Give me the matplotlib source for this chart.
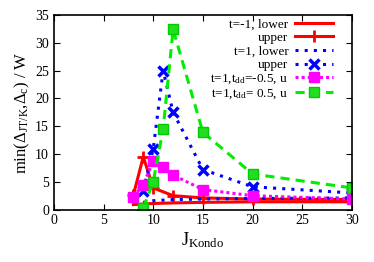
import matplotlib
matplotlib.use("Agg")
import matplotlib.pyplot as plt

plt.rcParams['font.family'] = ['Liberation Serif', 'DejaVu Serif']
plt.rcParams['mathtext.fontset'] = 'custom'
plt.rcParams['mathtext.rm'] = 'Liberation Serif'
plt.rcParams['mathtext.it'] = 'Liberation Serif'

# t=-1
jk_red = [8, 9, 10, 12, 15, 20, 30]
red_lower = [0.9, 1.0, 1.1, 1.2, 1.3, 1.4, 1.4]
red_upper = [2.6, 9.5, 3.9, 2.5, 2.1, 1.9, 1.8]

# t=1
jk_blue = [9, 10, 11, 12, 15, 20, 30]
blue_lower = [1.3, 1.6, 1.7, 1.8, 1.9, 2.0, 2.1]
blue_upper = [3.4, 10.9, 25.0, 17.5, 7.2, 4.1, 3.0]

# t=1, tdd=-0.5
jk_mag = [8, 9, 10, 11, 12, 15, 20, 30]
mag_upper = [2.3, 4.5, 8.7, 7.6, 6.2, 3.6, 2.5, 1.9]

# t=1, tdd=0.5
jk_green = [9, 10, 11, 12, 15, 20, 30]
green_upper = [0.3, 5.0, 14.5, 32.4, 13.9, 6.4, 3.9]

fig = plt.figure(figsize=(3.74, 2.62), dpi=100)
ax = fig.add_axes([0.144, 0.2, 0.797, 0.743])

ax.plot(jk_red, red_lower, color='#ff0000', lw=2.2, label='t=-1, lower')
ax.plot(jk_red, red_upper, color='#ff0000', lw=2.2, marker='+', ms=9, mew=2, label='upper')
ax.plot(jk_blue, blue_lower, color='#0000ff', lw=2.2, ls=(0, (1, 2)), label='t=1, lower')
ax.plot(jk_blue, blue_upper, color='#0000ff', lw=2.2, ls=(0, (1, 2)), marker='x', ms=7, mew=2.5, label='upper')
ax.plot(jk_mag, mag_upper, color='#ff00ff', lw=2.2, ls=(0, (1, 1)), marker='s', ms=7, label='t=1,t$_{dd}$=-0.5, u')
ax.plot(jk_green, green_upper, color='#00ee00', lw=2.2, ls=(0, (3, 2)), marker='s', ms=7,
        mfc='#22dd22', mec='#00cc00', label='t=1,t$_{dd}$= 0.5, u')

ax.set_xlim(0, 30)
ax.set_ylim(0, 35)
ax.set_xticks(range(0, 31, 5))
ax.set_yticks(range(0, 36, 5))
ax.tick_params(direction='in', top=True, right=True, labelsize=10, length=4)
for s in ax.spines.values():
    s.set_linewidth(1.2)

ax.set_xlabel('J$_{\\rm Kondo}$', fontsize=13, labelpad=2)
ax.set_ylabel('min($\\Delta_{\\rm JT/K}$,$\\Delta_{\\rm c}$) / W', fontsize=12, labelpad=2)

ax.legend(loc='upper right', bbox_to_anchor=(0.955, 1.01), frameon=False, markerfirst=False,
          fontsize=9.5, handlelength=2.9, labelspacing=0.1, borderpad=0.2, handletextpad=0.5,
          borderaxespad=0.2)

fig.savefig('out.png', dpi=100)
